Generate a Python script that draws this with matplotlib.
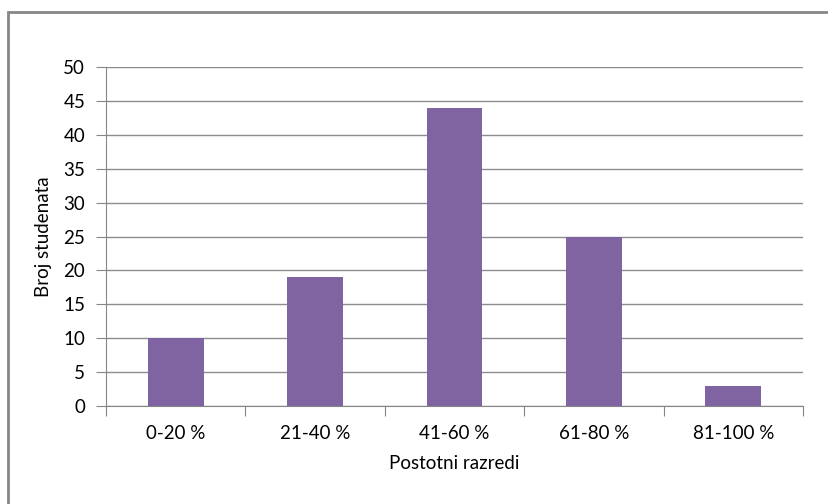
import matplotlib.pyplot as plt
from matplotlib.patches import Rectangle

categories = ["0-20 %", "21-40 %", "41-60 %", "61-80 %", "81-100 %"]
values = [10, 19, 44, 25, 3]
yticks = [0, 5, 10, 15, 20, 25, 30, 35, 40, 45, 50]

plt.rcParams['font.family'] = ['Lato', 'DejaVu Sans']

W, H = 829, 504
fig = plt.figure(figsize=(W / 100, H / 100), dpi=100)

# outer chart border (Excel style, cut off at right/bottom)
fig.patches.append(Rectangle((8 / W, -0.05), 1.2, 1 - 12 / H + 0.05,
                             transform=fig.transFigure, fill=False,
                             edgecolor="#868686", lw=2))

ax = fig.add_axes([106 / W, 1 - 406 / H, (803 - 106) / W, (406 - 67) / H])
x = range(len(categories))
ax.bar(x, values, width=0.4, color="#8064A2", zorder=3)

fs = 13.5
ax.set_xlim(-0.5, len(categories) - 0.5)
ax.set_ylim(0, 50)
ax.set_yticks(yticks)
ax.set_xticks([i - 0.5 for i in range(len(categories) + 1)], minor=False)
ax.set_xticklabels([])
ax.set_xticks(list(x), minor=True)
ax.set_xticklabels(categories, minor=True)
ax.tick_params(axis="x", which="minor", length=0, pad=14, labelsize=fs)
ax.tick_params(axis="x", which="major", length=7, direction="out", color="#868686")
ax.tick_params(axis="y", length=7, direction="out", color="#868686", labelsize=fs, pad=8)

ax.grid(axis="y", color="#8c8c8c", lw=1, zorder=0)
for s in ["top", "right"]:
    ax.spines[s].set_visible(False)
for s in ["left", "bottom"]:
    ax.spines[s].set_color("#868686")

ax.set_xlabel("Postotni razredi", fontsize=fs, labelpad=9)
ax.set_ylabel("Broj studenata", fontsize=fs, labelpad=8)

fig.savefig("out.png", dpi=100)
